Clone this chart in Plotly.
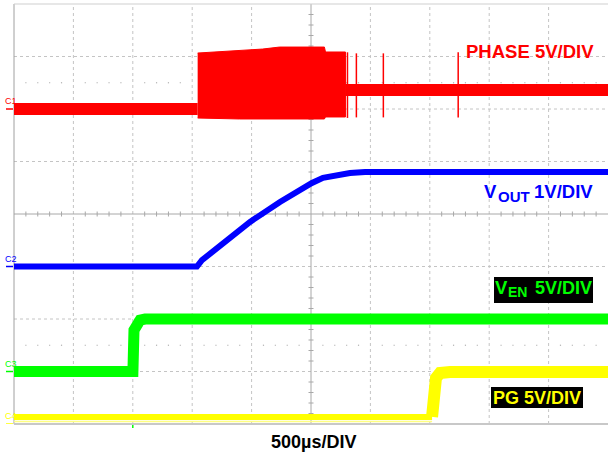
import plotly.graph_objects as go

# ---------------- figure geometry ----------------
W, H = 608, 455
ML, MR, MT, MB = 14, 0, 4, 31
PW, PH = W - ML - MR, H - MT - MB

US_PER_DIV = 500
NX, NY = 10, 8
T_END = US_PER_DIV * NX

# ---------------- channel settings ----------------
CH1 = dict(name="PHASE", vdiv=5.0, gnd=2.0, color="#ff0000")
CH2 = dict(name="VOUT", vdiv=1.0, gnd=-1.0, color="#0000ff")
CH3 = dict(name="VEN", vdiv=5.0, gnd=-3.0, color="#00ff00")
CH4 = dict(name="PG", vdiv=5.0, gnd=-4.0, color="#ffff00")
TRIG_T_US = 1000

# ---------------- data (time in us, volts) ----------------
# PHASE (C1)
phase_low_t = [0, 1546]
phase_low_v = [0.0, 0.0]
phase_sw_t = [1546, 1899, 2092, 2235, 2613, 2622, 2790]
phase_sw_top = [5.33, 5.62, 5.71, 5.90, 5.90, 5.43, 5.43]
phase_sw_bot = [-0.86, -0.95, -0.95, -0.95, -0.95, -0.76, -0.76]
phase_idle_t = [2790, 5000]
phase_idle_v = [1.8, 1.8]
phase_spike_t = [2807, 2882, 3109, 3739]
phase_spike_top = [5.4, 5.3, 5.3, 5.4]
phase_spike_bot = [-0.85, -0.8, -0.8, -0.8]

# VOUT (C2)
vout_t = [0, 1540, 1582, 1776, 1987, 2239, 2407, 2508, 2601, 2719, 2828, 2955, 5000]
vout_v = [0.0, 0.0, 0.12, 0.47, 0.85, 1.23, 1.46, 1.59, 1.69, 1.74, 1.78, 1.80, 1.80]

# VEN (C3)
ven_t = [0, 1001, 1010, 1027, 1061, 1103, 5000]
ven_v = [0.0, 0.0, 3.95, 4.43, 4.90, 5.00, 5.00]

# PG (C4)
pg_low_t = [0, 3519]
pg_low_v = [0.67, 0.67]
pg_floor_v = [0.24, 0.24]
pg_high_t = [3519, 3535, 3552, 3586, 3670, 5000]
pg_high_v = [0.67, 3.24, 4.38, 4.86, 4.95, 4.95]


def px(x):
    return (x - ML) / PW


def py(y):
    return (H - MB - y) / PH


def yrange(ch):
    return [(-NY / 2 - ch["gnd"]) * ch["vdiv"], (NY / 2 - ch["gnd"]) * ch["vdiv"]]


fig = go.Figure()

# PHASE
fig.add_trace(go.Scatter(x=phase_low_t, y=phase_low_v, mode="lines",
                         line=dict(color=CH1["color"], width=12), yaxis="y"))
fig.add_trace(go.Scatter(x=phase_sw_t + phase_sw_t[::-1],
                         y=phase_sw_top + phase_sw_bot[::-1],
                         mode="lines", fill="toself", fillcolor=CH1["color"],
                         line=dict(color=CH1["color"], width=1), yaxis="y"))
fig.add_trace(go.Scatter(x=phase_idle_t, y=phase_idle_v, mode="lines",
                         line=dict(color=CH1["color"], width=12), yaxis="y"))
sx, sy = [], []
for t, a, b in zip(phase_spike_t, phase_spike_top, phase_spike_bot):
    sx += [t, t, None]
    sy += [a, b, None]
fig.add_trace(go.Scatter(x=sx, y=sy, mode="lines",
                         line=dict(color=CH1["color"], width=1.5), yaxis="y"))

# VOUT
fig.add_trace(go.Scatter(x=vout_t, y=vout_v, mode="lines",
                         line=dict(color=CH2["color"], width=6), yaxis="y2"))
# VEN
fig.add_trace(go.Scatter(x=ven_t, y=ven_v, mode="lines",
                         line=dict(color=CH3["color"], width=11), yaxis="y3"))
# PG
fig.add_trace(go.Scatter(x=pg_low_t, y=pg_floor_v, mode="lines",
                         line=dict(color="#ffff80", width=1.5), yaxis="y4"))
fig.add_trace(go.Scatter(x=pg_low_t, y=pg_low_v, mode="lines",
                         line=dict(color=CH4["color"], width=6), yaxis="y4"))
fig.add_trace(go.Scatter(x=pg_high_t, y=pg_high_v, mode="lines",
                         line=dict(color=CH4["color"], width=12), yaxis="y4"))

# ---------------- graticule ----------------
shapes = []
GRID = "#c4c4c4"
for i in range(1, NX):
    if i == NX // 2:
        continue
    shapes.append(dict(type="line", xref="paper", yref="paper", x0=i / NX, x1=i / NX,
                       y0=0, y1=1, line=dict(color=GRID, width=1, dash="dot"), layer="below"))
for j in range(1, NY):
    if j == NY // 2:
        continue
    shapes.append(dict(type="line", xref="paper", yref="paper", x0=0, x1=1,
                       y0=j / NY, y1=j / NY, line=dict(color=GRID, width=1, dash="dot"), layer="below"))
# center cross
shapes.append(dict(type="line", xref="paper", yref="paper", x0=0, x1=1, y0=0.5, y1=0.5,
                   line=dict(color="#a8a8a8", width=1), layer="below"))
shapes.append(dict(type="line", xref="paper", yref="paper", x0=0.5, x1=0.5, y0=0, y1=1,
                   line=dict(color="#a8a8a8", width=1), layer="below"))
for k in range(1, NX * 5):
    if k % 5 == 0:
        continue
    shapes.append(dict(type="line", xref="paper", yref="paper", x0=k / (NX * 5), x1=k / (NX * 5),
                       y0=0.5 - 2.5 / PH, y1=0.5 + 2.5 / PH, line=dict(color="#a8a8a8", width=1), layer="below"))
    for yy in (0.5 + 2.5 / NY, 0.5 - 2.5 / NY):
        shapes.append(dict(type="rect", xref="paper", yref="paper",
                           x0=k / (NX * 5) - 0.6 / PW, x1=k / (NX * 5) + 0.6 / PW,
                           y0=yy - 0.6 / PH, y1=yy + 0.6 / PH,
                           line=dict(width=0), fillcolor="#b0b0b0", layer="below"))
for k in range(1, NY * 5):
    if k % 5 == 0:
        continue
    shapes.append(dict(type="line", xref="paper", yref="paper", x0=0.5 - 2.5 / PW, x1=0.5 + 2.5 / PW,
                       y0=k / (NY * 5), y1=k / (NY * 5), line=dict(color="#a8a8a8", width=1), layer="below"))
# borders
shapes.append(dict(type="line", xref="paper", yref="paper", x0=0, x1=0, y0=0, y1=1,
                   line=dict(color="#a0a0a0", width=1), layer="below"))
shapes.append(dict(type="line", xref="paper", yref="paper", x0=0, x1=1, y0=1, y1=1,
                   line=dict(color="#cfcfcf", width=1), layer="below"))
shapes.append(dict(type="line", xref="paper", yref="paper", x0=0, x1=1, y0=0, y1=0,
                   line=dict(color="#c8c8c8", width=2), layer="below"))

# channel ground markers
annotations = []
for ch, yref in ((CH1, "y"), (CH2, "y2"), (CH3, "y3"), (CH4, "y4")):
    shapes.append(dict(type="line", xref="paper", yref=yref, x0=px(6), x1=px(13), y0=0, y1=0,
                       line=dict(color=ch["color"], width=1.5)))
for lab, ch, yref in (("C1", CH1, "y"), ("C2", CH2, "y2"), ("C3", CH3, "y3"), ("C4", CH4, "y4")):
    annotations.append(dict(text=lab, xref="paper", yref=yref, x=px(4), y=0, xanchor="left",
                            yanchor="bottom", yshift=2, showarrow=False, borderpad=0,
                            font=dict(size=9, color=ch["color"], family="Liberation Sans, Arial")))
# trigger marker
shapes.append(dict(type="line", xref="x", yref="paper", x0=TRIG_T_US, x1=TRIG_T_US,
                   y0=-1 / PH, y1=-4 / PH, line=dict(color=CH3["color"], width=1.5)))

# label boxes
shapes.append(dict(type="rect", xref="paper", yref="paper", x0=px(494), x1=px(593),
                   y0=py(303), y1=py(277), fillcolor="black", line=dict(width=0)))
shapes.append(dict(type="rect", xref="paper", yref="paper", x0=px(491), x1=px(583),
                   y0=py(408), y1=py(387), fillcolor="black", line=dict(width=0)))

FONT = "Liberation Sans, Arial"


def label(text, x, y, size, color):
    annotations.append(dict(text="<b>" + text + "</b>", xref="paper", yref="paper",
                            x=px(x), y=py(y), xanchor="left", yanchor="middle",
                            showarrow=False, borderpad=0,
                            font=dict(size=size, color=color, family=FONT)))


label("PHASE 5V/DIV", 465, 51, 18.5, CH1["color"])
label("V", 483, 191, 18.5, CH2["color"])
label("OUT", 497, 196, 15, CH2["color"])
label("1V/DIV", 533, 192, 18.5, CH2["color"])
label("V", 494, 287, 18.5, CH3["color"])
label("EN", 507, 292, 14, CH3["color"])
label("5V/DIV", 534, 288, 18, CH3["color"])
label("PG 5V/DIV", 492, 398, 18, CH4["color"])
label("500µs/DIV", 270, 442, 18, "black")

ax_common = dict(visible=False, showgrid=False, zeroline=False, fixedrange=True)
fig.update_layout(
    width=W, height=H,
    margin=dict(l=ML, r=MR, t=MT, b=MB),
    paper_bgcolor="white", plot_bgcolor="white",
    showlegend=False,
    xaxis=dict(range=[0, T_END], **ax_common),
    yaxis=dict(range=yrange(CH1), **ax_common),
    yaxis2=dict(range=yrange(CH2), overlaying="y", **ax_common),
    yaxis3=dict(range=yrange(CH3), overlaying="y", **ax_common),
    yaxis4=dict(range=yrange(CH4), overlaying="y", **ax_common),
    shapes=shapes,
    annotations=annotations,
)

fig.write_html(
    "out.html",
    config=dict(displayModeBar=False, staticPlot=True),
    post_script="document.body.style.margin='0';document.body.style.overflow='hidden';",
)
